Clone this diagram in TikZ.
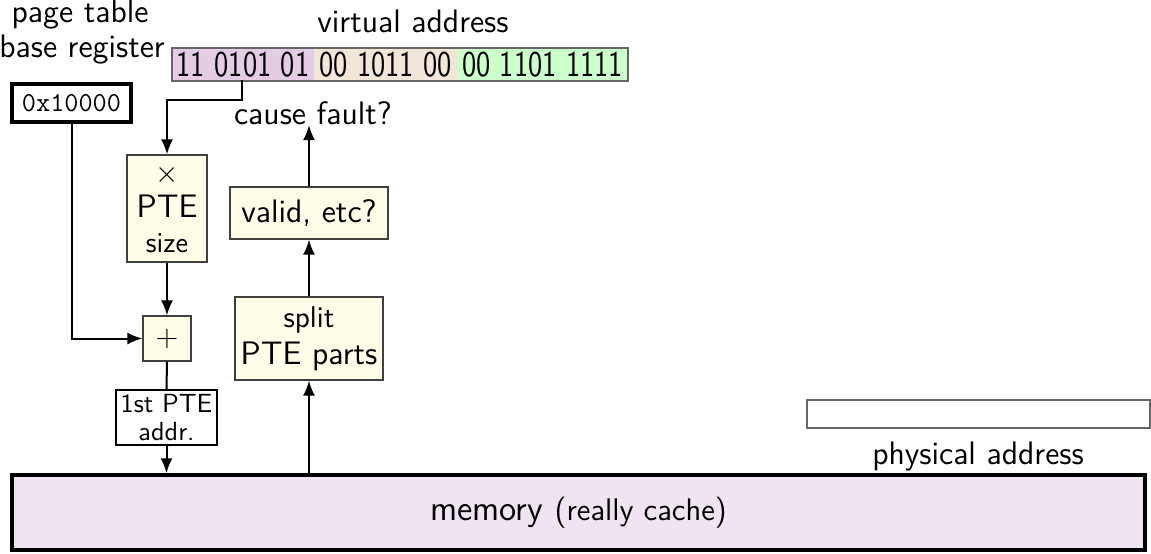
\documentclass[tikz,border=0pt]{standalone}
\usepackage{fontspec}
\usetikzlibrary{arrows.meta}
\definecolor{bitpurple}{RGB}{229,204,229}
\definecolor{bitbeige}{RGB}{242,230,217}
\definecolor{bitgreen}{RGB}{204,255,204}
\definecolor{memfill}{RGB}{240,228,242}
\definecolor{cream}{RGB}{255,252,232}
\begin{document}
\begin{tikzpicture}[x=0.4pt,y=-0.4pt,
  every node/.style={font=\sffamily\fontsize{13}{15}\selectfont},
  box/.style={draw=black!75, fill=cream, inner sep=0pt, line width=0.5pt},
  arr/.style={-{Latex[length=6pt,width=4.8pt]}, line width=0.8pt},
  ln/.style={line width=0.8pt},
  bits/.style={inner sep=0pt, anchor=north west, minimum height=32*0.4pt, font=\sffamily\fontsize{14.5}{15}\selectfont},
  txt/.style={inner sep=0pt}]
\useasboundingbox (0,0) rectangle (1151,553);
% labels
\node[txt] (ptl1) at (80,15) {page table};
\node[txt] (ptl2) at (82,50) {base register};
\node[txt] (val) at (413,21) {virtual address};
% VA bar
\node[bits, fill=bitpurple, minimum width=141*0.4pt] (b1) at (172,48) {\scalebox{0.8}[1]{11 0101 01}};
\node[bits, fill=bitbeige, minimum width=144*0.4pt] (b2) at (313,48) {\scalebox{0.8}[1]{00 1011 00}};
\node[bits, fill=bitgreen, minimum width=170*0.4pt] (b3) at (457,48) {\scalebox{0.8}[1]{00 1101 1111}};
\draw[black!60, line width=0.5pt] (b1.north west) rectangle (b3.south east);
% base register box
\node[draw=black, line width=1.4pt, fill=white, minimum width=119*0.4pt, minimum height=38*0.4pt, inner sep=0pt, font=\ttfamily\fontsize{11}{12}\selectfont] (ptbr) at (71.5,103) {0x10000};
% x PTE size
\node[box, minimum width=80*0.4pt, minimum height=107*0.4pt, align=center] (mul) at (167,208.5) {{\fontsize{12}{12}\selectfont$\times$}\\[-1pt]PTE\\[-1pt]{\fontsize{11.5}{12}\selectfont size}};
% plus
\node[box, minimum width=48*0.4pt, minimum height=45*0.4pt] (plus) at (167,338.5) {\fontsize{12.5}{13}\selectfont$+$};
% 1st PTE addr
\node[draw=black, fill=white, line width=0.8pt, minimum width=101*0.4pt, minimum height=55*0.4pt, inner sep=0pt, align=center, font=\sffamily\fontsize{10.5}{11.5}\selectfont] (addr) at (166.5,417.5) {1st PTE\\addr.};
% split
\node[box, minimum width=148*0.4pt, minimum height=83*0.4pt, align=center] (split) at (309,338.5) {{\fontsize{12}{14}\selectfont split}\\PTE parts};
% valid
\node[box, minimum width=158*0.4pt, minimum height=52*0.4pt] (valid) at (309,213) {valid, etc?};
% cause fault
\node[txt] (fault) at (313,113) {cause fault?};
% physical address
\node[draw=black!60, line width=0.5pt, fill=white, minimum width=343*0.4pt, minimum height=28*0.4pt, inner sep=0pt] (pa) at (978.5,414) {};
\node[txt] (pal) at (978,457) {physical address};
% memory
\node[draw=black, line width=1.4pt, fill=memfill, minimum width=1133*0.4pt, minimum height=75*0.4pt, inner sep=0pt, font=\sffamily\fontsize{14}{17}\selectfont] (mem) at (578.5,512.5) {memory {\fontsize{12.5}{14}\selectfont (really cache)}};
% connectors
\coordinate (vaTap) at (242,80);
\draw[arr] (vaTap) |- (167,100) -- (mul.north);
\draw[arr] (ptbr.south) |- (plus.west);
\draw[arr] (mul.south) -- (plus.north);
\draw[ln] (plus.south) -- (addr.north);
\draw[arr] (addr.south) -- (addr.south |- mem.north);
\draw[arr] (split.south |- mem.north) -- (split.south);
\draw[arr] (split.north) -- (valid.south);
\draw[arr] (valid.north) -- (valid.north |- fault.south);
\end{tikzpicture}
\end{document}
